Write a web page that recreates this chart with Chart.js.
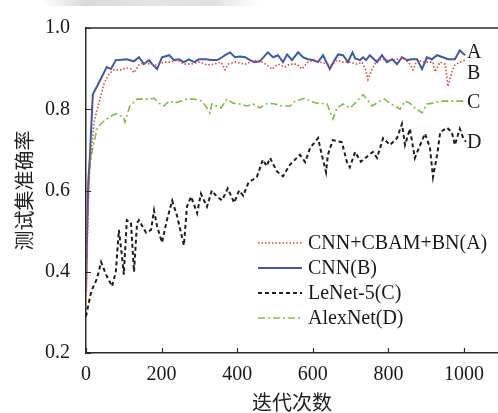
<!DOCTYPE html>
<html><head><meta charset="utf-8">
<script src="https://cdn.jsdelivr.net/npm/chart.js@4.4.0/dist/chart.umd.min.js"></script>
<style>html,body{margin:0;padding:0;background:#fff;}#wrap{width:498px;height:413px;position:relative}</style>
</head><body><div id="wrap"><canvas id="c" width="498" height="413"></canvas></div>
<script>
const xTicks = [0, 200, 400, 600, 800, 1000];
const yTicks = [0.2, 0.4, 0.6, 0.8, 1.0];
const seriesNames = ['CNN+CBAM+BN(A)', 'CNN(B)', 'LeNet-5(C)', 'AlexNet(D)'];
const endLabels = ['A', 'B', 'C', 'D'];
const endLabelValues = [0.94, 0.887, 0.815, 0.717];
const xTitle = '迭代次数';
const yTitle = '测试集准确率';

// CNN+CBAM+BN(A)
const itA = [0,3,6,10,21,34,48,61,74,93,106,119,127,140,153,172,185,206,225,241,259,278,299,320,339,357,368,376,394,421,434,455,479,492,508,526,539,558,571,587,605,619,638,651,664,680,698,717,730,740,746,756,770,786,804,817,844,857,865,876,897,918,923,937,950,958,968,976,989,1003];
const accA = [0.33,0.45,0.56,0.657,0.767,0.815,0.864,0.887,0.897,0.897,0.902,0.899,0.89,0.909,0.914,0.911,0.909,0.916,0.916,0.921,0.911,0.911,0.916,0.909,0.911,0.916,0.897,0.911,0.916,0.911,0.916,0.921,0.909,0.899,0.911,0.904,0.911,0.911,0.899,0.916,0.921,0.916,0.911,0.909,0.921,0.916,0.916,0.911,0.916,0.897,0.873,0.897,0.921,0.923,0.921,0.923,0.923,0.911,0.897,0.921,0.916,0.916,0.892,0.916,0.911,0.856,0.892,0.909,0.916,0.921];
// CNN(B)
const itB = [0,3,6,10,18,29,42,55,66,79,95,108,127,140,153,167,175,188,201,220,233,246,259,272,286,299,317,331,347,360,368,381,394,408,421,434,447,460,481,495,508,521,532,545,561,574,587,600,614,627,645,659,667,680,693,705,712,725,733,741,751,770,783,796,810,823,836,849,862,876,889,902,915,929,944,958,976,989,1003];
const accB = [0.35,0.5,0.62,0.68,0.837,0.856,0.88,0.904,0.899,0.921,0.922,0.923,0.918,0.928,0.911,0.921,0.911,0.899,0.928,0.933,0.921,0.923,0.916,0.923,0.916,0.923,0.923,0.921,0.921,0.928,0.933,0.94,0.928,0.93,0.928,0.921,0.916,0.918,0.94,0.928,0.933,0.916,0.935,0.921,0.94,0.928,0.923,0.921,0.916,0.933,0.899,0.923,0.935,0.933,0.916,0.94,0.925,0.921,0.928,0.921,0.933,0.916,0.933,0.916,0.923,0.911,0.928,0.921,0.923,0.923,0.899,0.928,0.923,0.933,0.928,0.923,0.923,0.945,0.933];
// LeNet-5(C)
const itC = [0,3,10,14,29,40,53,69,79,87,95,100,108,119,127,135,140,159,172,180,188,201,214,228,241,259,267,278,294,304,320,333,346,360,375,392,405,416,430,452,468,478,487,505,521,540,566,580,593,614,622,635,640,653,677,690,698,712,727,743,759,770,786,804,823,836,844,857,870,884,897,910,918,929,937,955,968,976,989,998,1005];
const accC = [0.29,0.304,0.335,0.352,0.383,0.424,0.393,0.364,0.40,0.503,0.44,0.393,0.527,0.52,0.40,0.52,0.527,0.496,0.503,0.551,0.512,0.472,0.527,0.575,0.537,0.465,0.56,0.585,0.544,0.592,0.56,0.60,0.585,0.576,0.605,0.57,0.60,0.587,0.62,0.633,0.676,0.66,0.68,0.647,0.635,0.664,0.688,0.67,0.705,0.729,0.695,0.645,0.688,0.724,0.719,0.671,0.657,0.695,0.671,0.683,0.695,0.68,0.729,0.712,0.729,0.764,0.712,0.752,0.68,0.712,0.74,0.705,0.633,0.688,0.743,0.755,0.743,0.712,0.752,0.729,0.72];
// AlexNet(D)
const itD = [0,3,6,10,16,29,40,55,70,82,100,103,116,135,150,165,180,193,206,220,233,251,267,286,307,320,328,333,357,373,389,407,426,442,460,481,500,519,540,553,579,593,611,638,653,664,680,698,712,733,743,757,777,790,804,817,831,844,857,870,889,902,918,937,955,976,1003];
const accD = [0.32,0.48,0.6,0.66,0.695,0.752,0.765,0.776,0.785,0.789,0.779,0.768,0.808,0.825,0.825,0.825,0.827,0.815,0.808,0.82,0.815,0.82,0.825,0.825,0.82,0.803,0.79,0.813,0.803,0.825,0.815,0.813,0.808,0.813,0.803,0.815,0.813,0.808,0.808,0.82,0.827,0.82,0.815,0.813,0.776,0.803,0.813,0.803,0.815,0.836,0.825,0.808,0.82,0.825,0.815,0.808,0.80,0.82,0.815,0.803,0.791,0.813,0.815,0.82,0.82,0.82,0.82];

const pts = (xs, ys) => xs.map((x, i) => ({x: x, y: ys[i]}));
const styles = [
  {color: '#e8443a', width: 1.6, dash: [1.5, 2]},
  {color: '#3b5ba8', width: 2, dash: []},
  {color: '#1e1e1e', width: 2, dash: [4, 3]},
  {color: '#7cc143', width: 1.6, dash: [7, 3, 2, 3]}
];
const seriesData = [pts(itA, accA), pts(itB, accB), pts(itC, accC), pts(itD, accD)];

const serif = '"Liberation Serif", "Times New Roman", serif';
const cjk = '"Noto Sans CJK SC", sans-serif';

const decor = {
  id: 'decor',
  beforeDraw(chart) {
    const ctx = chart.ctx;
    ctx.save();
    ctx.fillStyle = '#fff';
    ctx.fillRect(0, 0, chart.width, chart.height);
    const g = ctx.createLinearGradient(40, 0, 260, 0);
    g.addColorStop(0, 'rgba(200,200,200,0)');
    g.addColorStop(0.2, 'rgba(180,180,180,0.5)');
    g.addColorStop(0.5, 'rgba(195,195,195,0.45)');
    g.addColorStop(0.8, 'rgba(185,185,185,0.45)');
    g.addColorStop(1, 'rgba(210,210,210,0)');
    ctx.fillStyle = g;
    ctx.fillRect(40, 0, 220, 6);
    ctx.restore();
  },
  afterDraw(chart) {
    const ctx = chart.ctx;
    const a = chart.chartArea;
    const xs = chart.scales.x, ys = chart.scales.y;
    ctx.save();
    ctx.strokeStyle = '#2a2a2a';
    ctx.lineWidth = 1.5;
    ctx.beginPath();
    ctx.moveTo(a.left, a.top);
    ctx.lineTo(a.right, a.top);
    ctx.stroke();
    ctx.beginPath();
    yTicks.forEach(v => {
      const p = Math.round(ys.getPixelForValue(v)) + 0.5;
      ctx.moveTo(a.left, p); ctx.lineTo(a.left + 5, p);
    });
    xTicks.forEach(v => {
      const p = Math.round(xs.getPixelForValue(v)) + 0.5;
      ctx.moveTo(p, a.bottom); ctx.lineTo(p, a.bottom - 5);
    });
    ctx.lineWidth = 1.2;
    ctx.stroke();

    // legend
    ctx.font = '20px ' + serif;
    ctx.textBaseline = 'middle';
    ctx.textAlign = 'left';
    const lx0 = 258, lx1 = 302, tx = 308, ly0 = 243, step = 25;
    seriesNames.forEach((n, i) => {
      const y = ly0 + i * step;
      const st = styles[i];
      ctx.strokeStyle = st.color;
      ctx.lineWidth = st.width;
      ctx.setLineDash(st.dash);
      ctx.beginPath();
      ctx.moveTo(lx0, y); ctx.lineTo(lx1, y);
      ctx.stroke();
      ctx.setLineDash([]);
      ctx.fillStyle = '#1a1a1a';
      ctx.fillText(n, tx, y + 1);
    });

    // end labels
    const ex = xs.getPixelForValue(1008);
    endLabels.forEach((t, i) => {
      ctx.fillText(t, ex, ys.getPixelForValue(endLabelValues[i]));
    });

    // axis titles
    ctx.font = '20px ' + cjk;
    ctx.fillStyle = '#222';
    ctx.textAlign = 'center';
    ctx.fillText(xTitle, (a.left + a.right) / 2, 402);
    ctx.translate(24, (a.top + a.bottom) / 2);
    ctx.rotate(-Math.PI / 2);
    ctx.fillText(yTitle, 0, 0);
    ctx.restore();
  }
};

new Chart(document.getElementById('c'), {
  type: 'line',
  data: {
    datasets: seriesNames.map((n, i) => ({
      label: n,
      data: seriesData[i],
      borderColor: styles[i].color,
      borderWidth: styles[i].width,
      borderDash: styles[i].dash,
      pointRadius: 0,
      fill: false,
      tension: 0
    }))
  },
  options: {
    responsive: false,
    animation: false,
    devicePixelRatio: 1,
    layout: {padding: {top: 20, right: 0, left: 0, bottom: 0}},
    plugins: {legend: {display: false}, tooltip: {enabled: false}},
    scales: {
      x: {
        type: 'linear', min: 0, max: 1090,
        afterBuildTicks: s => { s.ticks = xTicks.map(v => ({value: v})); },
        afterFit: s => { s.height = 60; },
        grid: {display: false, drawTicks: false},
        border: {display: true, color: '#2a2a2a', width: 1.5},
        ticks: {font: {family: serif, size: 20}, color: '#1a1a1a', padding: 10, maxRotation: 0, autoSkip: false, callback: v => String(v)}
      },
      y: {
        type: 'linear', min: 0.2, max: 1.0,
        afterBuildTicks: s => { s.ticks = yTicks.map(v => ({value: v})); },
        afterFit: s => { s.width = 86; },
        grid: {display: false, drawTicks: false},
        border: {display: true, color: '#2a2a2a', width: 1.5},
        ticks: {font: {family: serif, size: 20}, color: '#1a1a1a', padding: 16, callback: v => v.toFixed(1)}
      }
    }
  },
  plugins: [decor]
});
</script></body></html>
